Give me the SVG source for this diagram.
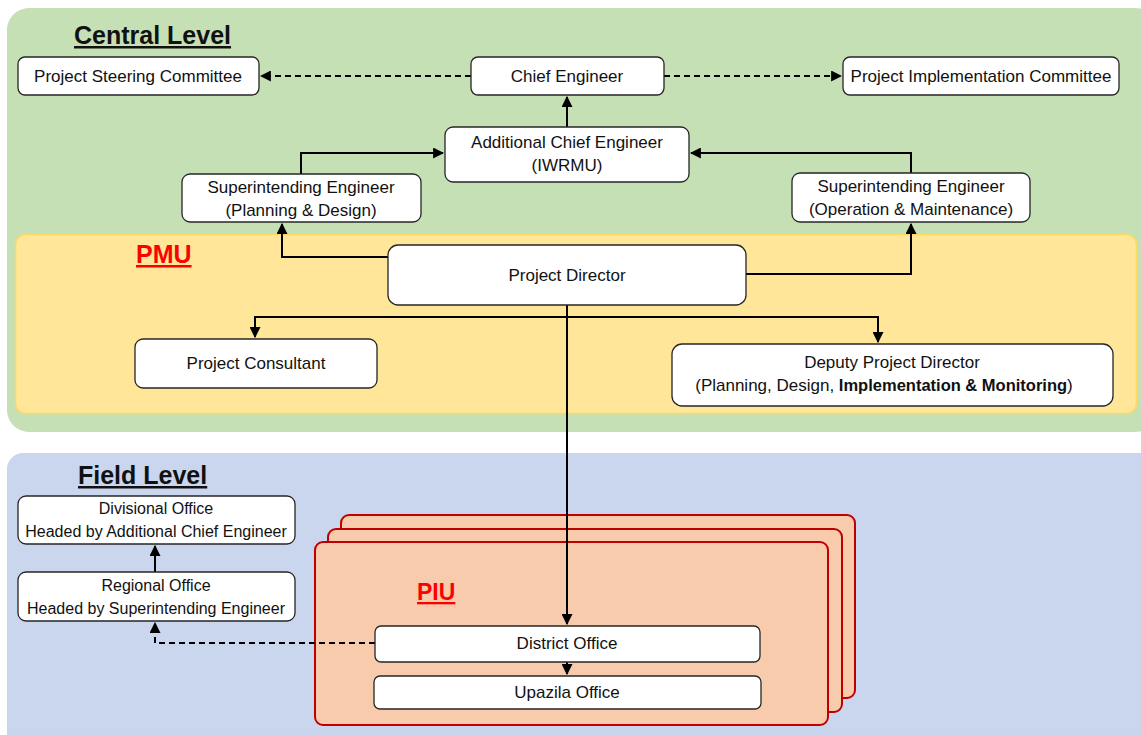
<svg xmlns="http://www.w3.org/2000/svg" width="1141" height="735" viewBox="0 0 1141 735">
<style>
.node rect{fill:#fff;stroke:#262626;stroke-width:1.3}
.t{font-family:"Liberation Sans",Arial,sans-serif;font-size:17px;fill:#111;text-anchor:middle}
.s{font-size:16px}
.h{font-family:"Liberation Sans",Arial,sans-serif;font-size:25px;font-weight:bold;fill:#111;text-decoration:underline}
.r{font-family:"Liberation Sans",Arial,sans-serif;font-weight:bold;fill:#ff0000;text-decoration:underline}
.c{fill:none;stroke:#000;stroke-width:2}
.d{fill:none;stroke:#000;stroke-width:2;stroke-dasharray:6 4}
.piu{fill:#f8cbad;stroke:#c00000;stroke-width:2}
</style>
<defs>
<marker id="a" viewBox="0 0 10 10" refX="9" refY="5" markerWidth="5.5" markerHeight="5.5" orient="auto" markerUnits="strokeWidth">
<path d="M0,0 L10,5 L0,10 z" fill="#000"/>
</marker>
</defs>
<g id="panels">
<rect x="7" y="8" width="1150" height="424" rx="22" fill="#c5e0b4"/>
<rect x="7" y="453" width="1150" height="300" rx="16" fill="#c9d6ed"/>
<rect x="15.5" y="234.5" width="1121" height="179" rx="10" fill="#ffe699" stroke="#ffd966" stroke-width="1.5"/>
<text class="h" x="74" y="44">Central Level</text>
<text class="h" x="78" y="484">Field Level</text>
<text class="r" x="136" y="263" font-size="25">PMU</text>
</g>
<g id="piu">
<rect class="piu" x="341" y="515" width="514" height="183" rx="8"/>
<rect class="piu" x="328" y="529" width="514" height="183" rx="8"/>
<rect class="piu" x="315" y="542" width="513" height="183" rx="8"/>
<text class="r" x="417" y="600" font-size="23">PIU</text>
</g>
<g id="connectors">
<path class="d" d="M471,76 H261" marker-end="url(#a)"/>
<path class="d" d="M664,76 H841" marker-end="url(#a)"/>
<path class="c" d="M567,127 V97" marker-end="url(#a)"/>
<path class="c" d="M301,174 V153 H443" marker-end="url(#a)"/>
<path class="c" d="M911,173 V153 H691" marker-end="url(#a)"/>
<path class="c" d="M388,257 H282 V224" marker-end="url(#a)"/>
<path class="c" d="M746,274 H911 V224" marker-end="url(#a)"/>
<path class="c" d="M567,305 V624" marker-end="url(#a)"/>
<path class="c" d="M255,337 V317 H878 V342" marker-end="url(#a)"/>
<path class="c" d="M255,317 V337" marker-end="url(#a)"/>
<path class="c" d="M567,662 V674" marker-end="url(#a)"/>
<path class="d" d="M375,643 H155 V623" marker-end="url(#a)"/>
<path class="c" d="M155,572 V546" marker-end="url(#a)"/>
</g>
<g id="psc" class="node"><rect x="18" y="57" width="241" height="38" rx="7"/><text class="t" x="138" y="82">Project Steering Committee</text></g>
<g id="ce" class="node"><rect x="471" y="57" width="193" height="38" rx="7"/><text class="t" x="567" y="82">Chief Engineer</text></g>
<g id="pic" class="node"><rect x="843" y="57" width="276" height="38" rx="7"/><text class="t" x="981" y="82">Project Implementation Committee</text></g>
<g id="ace" class="node"><rect x="445" y="127" width="244" height="55" rx="8"/><text class="t" x="567" y="148">Additional Chief Engineer</text><text class="t" x="567" y="171">(IWRMU)</text></g>
<g id="sepd" class="node"><rect x="182" y="174" width="239" height="48" rx="8"/><text class="t" x="301" y="193">Superintending Engineer</text><text class="t" x="301" y="216">(Planning &amp; Design)</text></g>
<g id="seom" class="node"><rect x="792" y="173" width="238" height="49" rx="8"/><text class="t" x="911" y="192">Superintending Engineer</text><text class="t" x="911" y="215">(Operation &amp; Maintenance)</text></g>
<g id="pd" class="node"><rect x="388" y="245" width="358" height="60" rx="10"/><text class="t" x="567" y="281">Project Director</text></g>
<g id="pc" class="node"><rect x="135" y="339" width="242" height="49" rx="8"/><text class="t" x="256" y="369">Project Consultant</text></g>
<g id="dpd" class="node"><rect x="672" y="344" width="441" height="62" rx="10"/><text class="t" x="892" y="368">Deputy Project Director</text><text class="t" x="884" y="391">(Planning, Design, <tspan font-weight="bold" font-size="16.5">Implementation &amp; Monitoring</tspan>)</text></g>
<g id="div" class="node"><rect x="18" y="496" width="277" height="48" rx="8"/><text class="t s" x="156" y="514">Divisional Office</text><text class="t s" x="156" y="537">Headed by Additional Chief Engineer</text></g>
<g id="reg" class="node"><rect x="18" y="572" width="277" height="49" rx="8"/><text class="t s" x="156" y="591">Regional Office</text><text class="t s" x="156" y="614">Headed by Superintending Engineer</text></g>
<g id="district" class="node"><rect x="375" y="626" width="385" height="36" rx="6"/><text class="t" x="567" y="649">District Office</text></g>
<g id="upazila" class="node"><rect x="374" y="676" width="387" height="33" rx="6"/><text class="t" x="567" y="698">Upazila Office</text></g>
</svg>
